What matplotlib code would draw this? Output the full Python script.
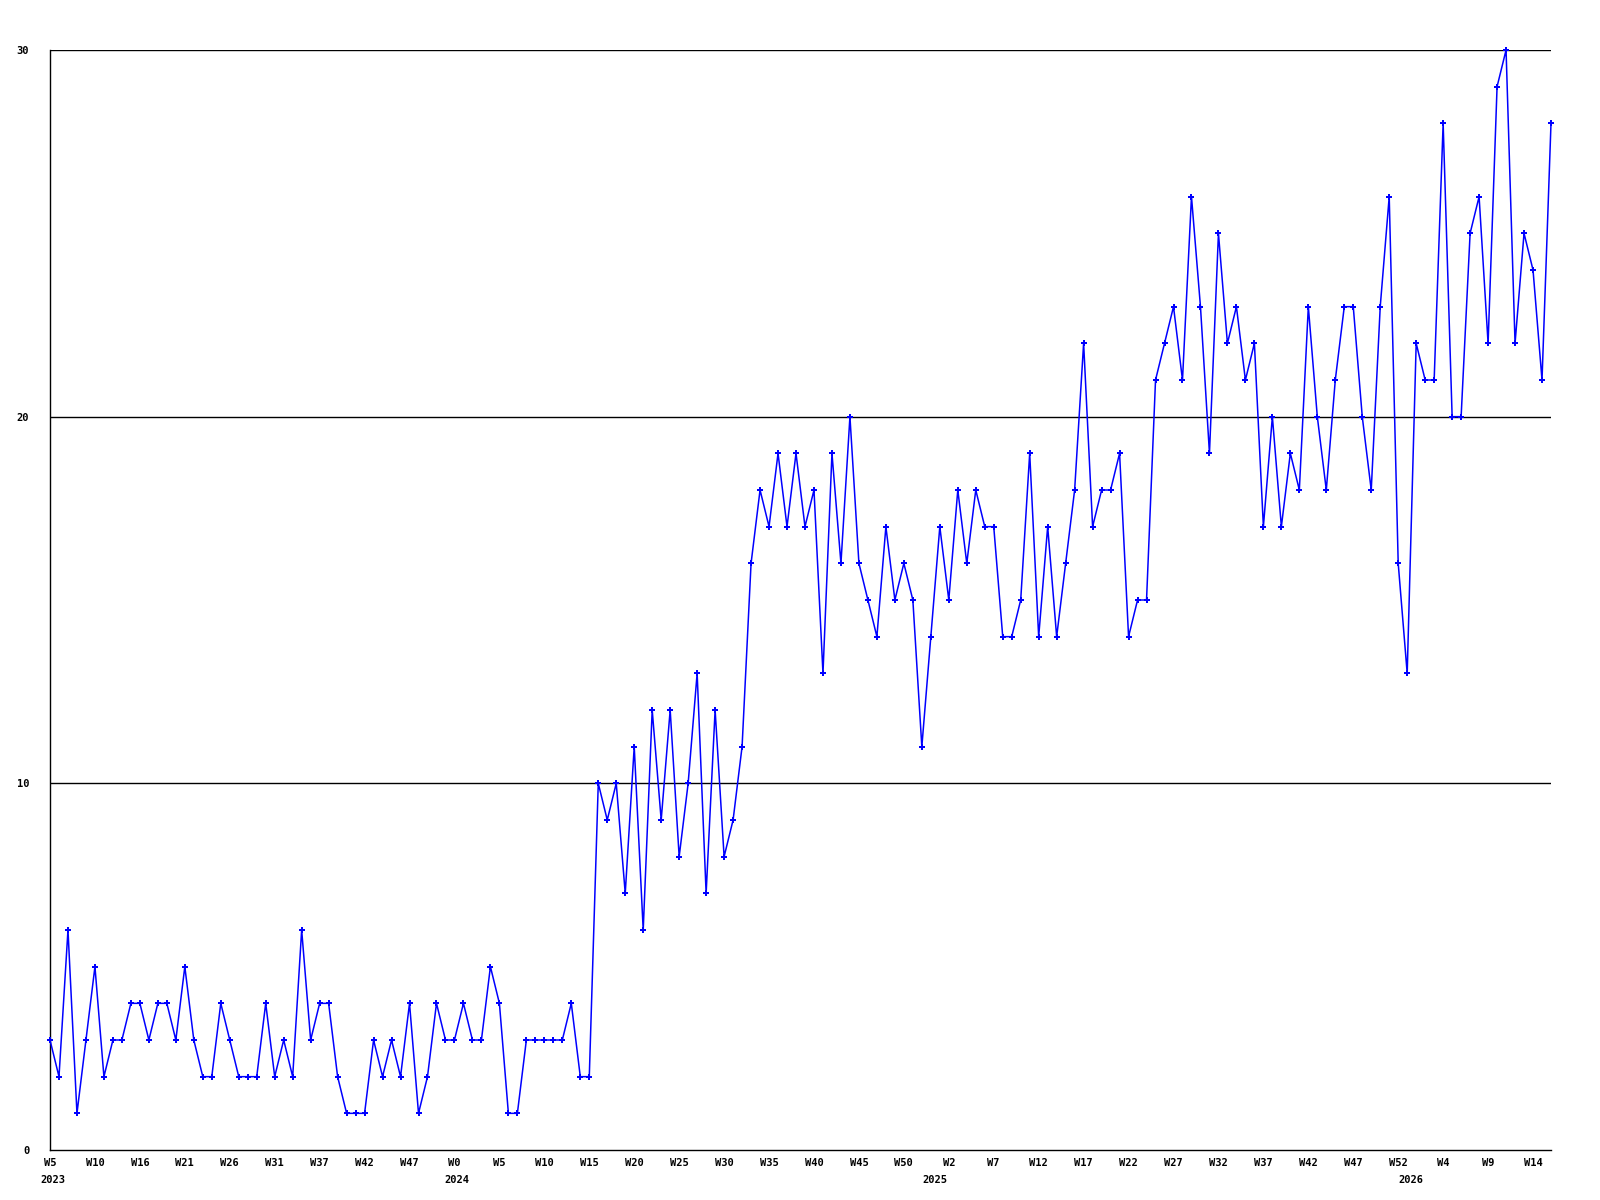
import matplotlib.pyplot as plt
from matplotlib import transforms

# weekly counts, W5 2023 .. W16 2026
values = [3, 2, 6, 1, 3, 5, 2, 3, 3, 4, 4, 3, 4, 4, 3, 5, 3, 2, 2, 4, 3, 2, 2, 2, 4, 2, 3, 2, 6, 3, 4, 4, 2,
          1, 1, 1, 3, 2, 3, 2, 4, 1, 2, 4, 3, 3, 4, 3, 3, 5, 4, 1, 1, 3, 3, 3, 3, 3, 4, 2, 2,
          10, 9, 10, 7, 11, 6, 12, 9, 12, 8, 10, 13, 7, 12, 8, 9, 11,
          16, 18, 17, 19, 17, 19, 17, 18, 13, 19, 16, 20, 16, 15, 14, 17, 15, 16, 15, 11, 14, 17, 15, 18, 16, 18, 17, 17,
          14, 14, 15, 19, 14, 17, 14, 16, 18, 22, 17, 18, 18, 19, 14, 15, 15, 21, 22, 23, 21, 26, 23, 19, 25, 22, 23, 21, 22, 17, 20, 17, 19, 18,
          23, 20, 18, 21, 23, 23, 20, 18, 23, 26, 16, 13, 22, 21, 21, 28, 20, 20, 25, 26, 22, 29, 30, 22, 25, 24, 21, 28]

week_labels = ['W5', 'W10', 'W16', 'W21', 'W26', 'W31', 'W37', 'W42', 'W47',
               'W0', 'W5', 'W10', 'W15', 'W20', 'W25', 'W30', 'W35', 'W40', 'W45', 'W50',
               'W2', 'W7', 'W12', 'W17', 'W22', 'W27', 'W32', 'W37', 'W42', 'W47', 'W52',
               'W4', 'W9', 'W14']
years = ['2023', '2024', '2025', '2026']
year_pos = [0.3, 45.3, 98.4, 151.4]

x = list(range(len(values)))
font = dict(family='DejaVu Sans Mono', weight='bold', size=7.5)

fig = plt.figure(figsize=(16, 12), dpi=100)
ax = fig.add_axes([50 / 1600, 50 / 1200, 1501 / 1600, 1100 / 1200])

for v in [10, 20, 30]:
    ax.axhline(v, color='black', lw=1, zorder=1)

ax.plot(x, values, color='#0000ff', lw=1.1, marker='P', markersize=5,
        markeredgewidth=0, zorder=3, clip_on=False)

ax.set_xlim(0, len(values) - 1)
ax.set_ylim(0, 30)
for s in ['top', 'right']:
    ax.spines[s].set_visible(False)
for s in ['left', 'bottom']:
    ax.spines[s].set_linewidth(1)

ax.set_yticks([0, 10, 20, 30])
ax.set_yticklabels(['0', '10', '20', '30'], **font)
ax.set_xticks(range(0, 5 * len(week_labels), 5))
ax.set_xticklabels(week_labels, **font)
ax.tick_params(axis='y', length=0, pad=15)
ax.tick_params(axis='x', length=0, pad=6)

trans = transforms.blended_transform_factory(ax.transData, ax.transAxes)
for yr, p in zip(years, year_pos):
    ax.text(p, -0.023, yr, transform=trans, ha='center', va='top', **font)

fig.savefig('out.png', dpi=100)
